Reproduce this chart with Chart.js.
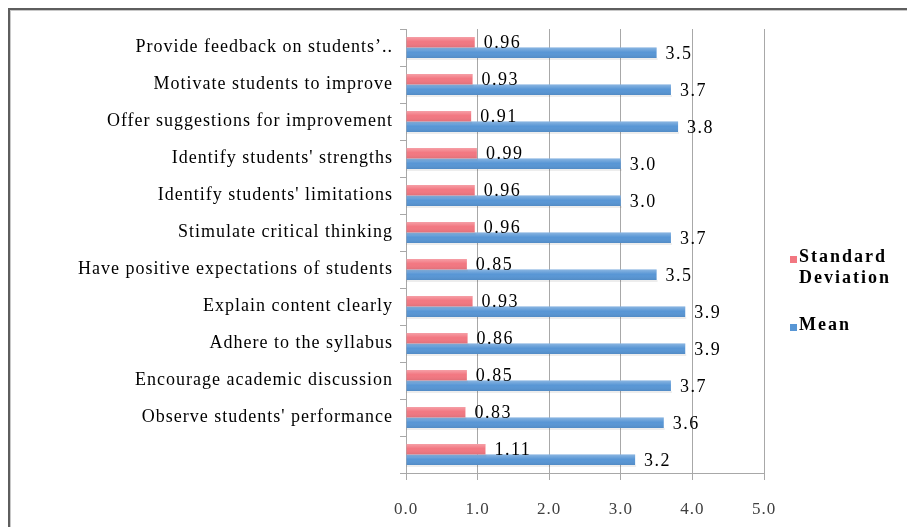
<!DOCTYPE html>
<html>
<head>
<meta charset="utf-8">
<title>Mean and Standard Deviation</title>
<script src="https://cdn.jsdelivr.net/npm/chart.js@4.4.1/dist/chart.umd.min.js"></script>
<style>
  html, body { margin: 0; padding: 0; background: #fff; }
  canvas { display: block; }
</style>
</head>
<body>
<canvas id="bar-chart" width="907" height="527"></canvas>
<script>
// data
const categories = [
    "Provide feedback on students\u2019..",
    "Motivate students to improve",
    "Offer suggestions for improvement",
    "Identify students' strengths",
    "Identify students' limitations",
    "Stimulate critical thinking",
    "Have positive expectations of students",
    "Explain content clearly",
    "Adhere to the syllabus",
    "Encourage academic discussion",
    "Observe students' performance",
    ""
];
const sdValues = [0.96, 0.93, 0.91, 0.99, 0.96, 0.96, 0.85, 0.93, 0.86, 0.85, 0.83, 1.11];
const meanValues = [3.5, 3.7, 3.8, 3.0, 3.0, 3.7, 3.5, 3.9, 3.9, 3.7, 3.6, 3.2];
const seriesNames = ["Standard Deviation", "Mean"];
const xTicks = [0, 1, 2, 3, 4, 5];

const SERIF = '"Liberation Serif", "Times New Roman", serif';
const GRID = '#a8a8a8';

// 背景と枠
const framePlugin = {
    id: 'frame',
    beforeDraw(chart) {
        const ctx = chart.ctx;
        ctx.save();
        ctx.fillStyle = '#fff';
        ctx.fillRect(0, 0, chart.width, chart.height);
        ctx.fillStyle = '#5e5e5e';
        ctx.fillRect(8, 8, chart.width, 2);
        ctx.fillRect(8, 8, 2, chart.height);
        ctx.fillStyle = '#c8c8c8';
        ctx.fillRect(10, 10, chart.width, 1);
        ctx.fillRect(10, 10, 1, chart.height);
        ctx.restore();
        // 文字間隔 (tick labels)
        ctx.letterSpacing = '1px';
    },
    afterDraw(chart) {
        chart.ctx.letterSpacing = '0px';
    }
};

// バーのつや
const glossPlugin = {
    id: 'gloss',
    afterDatasetsDraw(chart) {
        const ctx = chart.ctx;
        ctx.save();
        chart.data.datasets.forEach((ds, i) => {
            chart.getDatasetMeta(i).data.forEach((bar) => {
                const h = bar.height;
                const top = bar.y - h / 2;
                const g = ctx.createLinearGradient(0, top, 0, top + h);
                g.addColorStop(0, 'rgba(255,255,255,0.3)');
                g.addColorStop(0.45, 'rgba(255,255,255,0)');
                g.addColorStop(1, 'rgba(0,0,0,0.08)');
                ctx.fillStyle = g;
                ctx.fillRect(bar.base, top, bar.x - bar.base, h);
                ctx.fillStyle = 'rgba(0,0,0,0.07)';
                ctx.fillRect(bar.base, top + h, bar.x - bar.base + 1, 2);
            });
        });
        ctx.restore();
    }
};

// 値ラベル
const valueLabelPlugin = {
    id: 'valueLabels',
    afterDatasetsDraw(chart) {
        const ctx = chart.ctx;
        ctx.save();
        ctx.font = '18px ' + SERIF;
        ctx.letterSpacing = '1.5px';
        ctx.fillStyle = '#000';
        ctx.textAlign = 'left';
        ctx.textBaseline = 'middle';
        chart.data.datasets.forEach((ds, i) => {
            const digits = i === 0 ? 2 : 1;
            chart.getDatasetMeta(i).data.forEach((bar, j) => {
                ctx.fillText(ds.data[j].toFixed(digits), bar.x + 9, bar.y + 1);
            });
        });
        ctx.restore();
    }
};

// 凡例 (2行)
const legendPlugin = {
    id: 'sideLegend',
    afterDraw(chart) {
        const ctx = chart.ctx;
        const area = chart.chartArea;
        const x = area.right + 26;
        let y = (area.top + area.bottom) / 2 + 11;
        ctx.save();
        ctx.font = 'bold 18px ' + SERIF;
        ctx.letterSpacing = '2px';
        ctx.fillStyle = '#000';
        ctx.textAlign = 'left';
        ctx.textBaseline = 'alphabetic';
        const lines = [['Standard', 'Deviation'], ['Mean']];
        chart.data.datasets.forEach((ds, i) => {
            ctx.fillStyle = ds.backgroundColor;
            ctx.fillRect(x, y - 6, 7, 7);
            ctx.fillStyle = '#000';
            lines[i].forEach((t, k) => {
                ctx.fillText(t, x + 9, y + k * 21);
            });
            y += 68;
        });
        ctx.restore();
    }
};

const ctxBar = document.getElementById('bar-chart').getContext('2d');

new Chart(ctxBar, {
    type: 'bar',
    data: {
        labels: categories,
        datasets: [{
            label: seriesNames[0],
            data: sdValues,
            backgroundColor: '#f27781'
        }, {
            label: seriesNames[1],
            data: meanValues,
            backgroundColor: '#5896d5'
        }]
    },
    options: {
        indexAxis: 'y',
        responsive: false,
        animation: false,
        categoryPercentage: 0.57,
        barPercentage: 1,
        layout: {
            padding: { left: 12, top: 29, right: 143, bottom: 0 }
        },
        scales: {
            x: {
                min: 0,
                max: 5,
                afterFit: (scale) => { scale.height = 54; },
                afterBuildTicks: (scale) => {
                    scale.ticks = xTicks.map(v => ({ value: v }));
                },
                grid: {
                    color: GRID,
                    lineWidth: 1,
                    tickLength: 7
                },
                border: { color: GRID },
                ticks: {
                    color: '#404040',
                    padding: 19,
                    font: { family: SERIF, size: 17 },
                    callback: (value) => Number(value).toFixed(1)
                }
            },
            y: {
                afterFit: (scale) => { scale.width = 394; },
                grid: {
                    drawOnChartArea: false,
                    color: GRID,
                    tickLength: 6
                },
                border: { color: GRID },
                ticks: {
                    color: '#000',
                    padding: 7,
                    autoSkip: false,
                    font: { family: SERIF, size: 18 }
                }
            }
        },
        plugins: {
            legend: { display: false },
            tooltip: { enabled: false }
        }
    },
    plugins: [framePlugin, glossPlugin, valueLabelPlugin, legendPlugin]
});
</script>
</body>
</html>
